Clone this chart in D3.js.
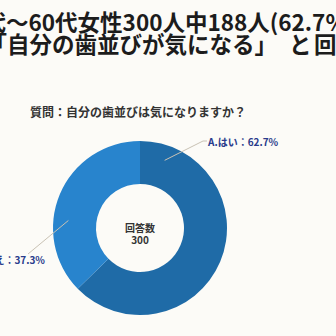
<!DOCTYPE html>
<html><head><meta charset="utf-8">
<script src="https://cdn.jsdelivr.net/npm/d3@7"></script>
<style>html,body{margin:0;padding:0;background:#fcfbf7;overflow:hidden}</style>
</head><body>
<script>
const categories = ["A.はい", "B.いいえ"];
const values = [62.7, 37.3];
const total = 300;
const colors = ["#1f6ba7", "#2884cd"];
const titleLine1 = "20代～60代女性300人中188人(62.7%)が";
const titleLine2 = ["「自分の歯並びが気になる」", "と", "回答"];
const question = "質問：自分の歯並びは気になりますか？";

const W = 336, H = 336;
const svg = d3.select("body").append("svg").attr("width", W).attr("height", H);
svg.append("rect").attr("width", W).attr("height", H).attr("fill", "#fcfbf7");

const font = "'Noto Sans CJK JP', 'Noto Sans', sans-serif";
svg.append("text").attr("x", -43).attr("y", 31)
  .attr("font-family", font).attr("font-weight", 700).attr("font-size", 22.5)
  .attr("fill", "#1c1c1c").text(titleLine1);
const t2 = svg.append("text").attr("y", 53)
  .attr("font-family", font).attr("font-weight", 700).attr("font-size", 22.5)
  .attr("fill", "#1c1c1c");
const t2x = [-15.5, 289, 314];
titleLine2.forEach((s, i) => t2.append("tspan").attr("x", t2x[i]).text(s));

svg.append("text").attr("x", 30).attr("y", 117)
  .attr("font-family", font).attr("font-weight", 700).attr("font-size", 12)
  .attr("fill", "#333").text(question);

const cx = 140, cy = 228, R = 87, r = 44;
const pie = d3.pie().sort(null).value(d => d)(values);
const arc = d3.arc().innerRadius(r).outerRadius(R);
const g = svg.append("g").attr("transform", `translate(${cx},${cy})`);
g.selectAll("path").data(pie).join("path")
  .attr("d", arc).attr("fill", (d, i) => colors[i]);

g.append("text").attr("y", 4).attr("text-anchor", "middle")
  .attr("font-family", font).attr("font-weight", 700).attr("font-size", 10)
  .attr("fill", "#333").text("回答数");
g.append("text").attr("y", 16).attr("text-anchor", "middle")
  .attr("font-family", font).attr("font-weight", 700).attr("font-size", 10)
  .attr("fill", "#333").text(String(total));

// leader lines and labels
const lr = 72;
const labelCfg = [
  {ang: 20, bend: [[203, 141], [207, 141]], x: 208, y: 146, anchor: "start"},
  {ang: 276, bend: [[28, 254]], x: 45, y: 264, anchor: "end"}
];
pie.forEach((d, i) => {
  const c = labelCfg[i];
  const a = c.ang * Math.PI / 180;
  const start = [cx + lr * Math.sin(a), cy - lr * Math.cos(a)];
  svg.append("path").attr("d", d3.line()([start, ...c.bend]))
    .attr("fill", "none").attr("stroke", "#c9c2b4").attr("stroke-width", 1);
  svg.append("text").attr("x", c.x).attr("y", c.y).attr("text-anchor", c.anchor)
    .attr("font-family", font).attr("font-weight", 700).attr("font-size", 10)
    .attr("fill", "#2a3b8c").text(`${categories[i]}：${values[i]}%`);
});
</script>
</body></html>
